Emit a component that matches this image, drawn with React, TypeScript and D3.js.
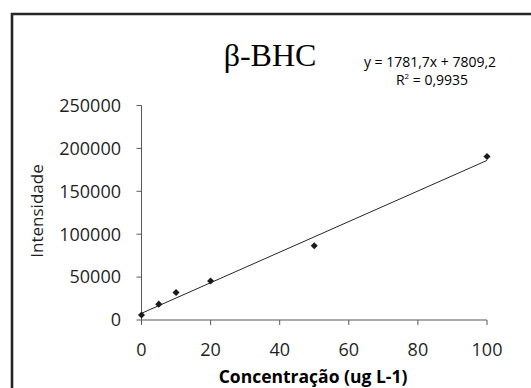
import React from "react";
import * as d3 from "d3";

const concentrations = [0, 5, 10, 20, 50, 100];
const intensities = [5800, 18500, 32000, 45500, 86500, 190500];
const xTicks = [0, 20, 40, 60, 80, 100];
const yTicks = [0, 50000, 100000, 150000, 200000, 250000];
const slope = 1781.7;
const intercept = 7809.2;
const title = "β-BHC";
const equationText = "y = 1781,7x + 7809,2";
const r2Text = "0,9935";
const xTitle = "Concentração (ug L-1)";
const yTitle = "Intensidade";

const W = 531;
const H = 388;
const axisColor = "#595959";
const sans = "'Open Sans', sans-serif";

export default function App() {
  const x = d3.scaleLinear().domain([0, 100]).range([141.5, 487]);
  const y = d3.scaleLinear().domain([0, 250000]).range([320, 105.5]);
  const line = d3
    .line<number>()
    .x((d) => x(d))
    .y((d) => y(slope * d + intercept));
  const diamond = d3.symbol().type(d3.symbolSquare).size(25)();

  return (
    <svg
      width={W}
      height={H}
      style={{ position: "absolute", left: 0, top: 0, background: "#fff" }}
    >
      <rect x={0} y={0} width={W} height={H} fill="#fff" />
      <path d={`M12,${H + 5} L12,14 L${W + 5},14`} fill="none" stroke="#262626" strokeWidth={2.6} />

      <text x={270} y={66} textAnchor="middle" fontFamily="'Liberation Serif', serif" fontSize={32} fill="#000">
        {title}
      </text>
      <text x={430} y={67} textAnchor="middle" fontFamily={sans} fontSize={14} fill="#000">
        {equationText}
      </text>
      <text x={432} y={85} textAnchor="middle" fontFamily={sans} fontSize={14} fill="#000">
        R<tspan fontSize={8} dy={-6}>2</tspan>
        <tspan dy={6}>{" = " + r2Text}</tspan>
      </text>

      {/* y axis */}
      <line x1={x(0)} x2={x(0)} y1={y(0)} y2={y(250000)} stroke={axisColor} strokeWidth={1} />
      {yTicks.map((t) => (
        <g key={"y" + t}>
          <line x1={x(0) - 5} x2={x(0)} y1={y(t)} y2={y(t)} stroke={axisColor} strokeWidth={1} />
          <text x={121} y={y(t)} dy="0.35em" textAnchor="end" fontFamily={sans} fontSize={18} fill="#1f1f1f">
            {t}
          </text>
        </g>
      ))}

      {/* x axis */}
      <line x1={x(0)} x2={x(100)} y1={y(0)} y2={y(0)} stroke={axisColor} strokeWidth={1} />
      {xTicks.map((t) => (
        <g key={"x" + t}>
          <line x1={x(t)} x2={x(t)} y1={y(0)} y2={y(0) + 5} stroke={axisColor} strokeWidth={1} />
          <text x={x(t)} y={356} textAnchor="middle" fontFamily={sans} fontSize={18} fill="#1f1f1f">
            {t}
          </text>
        </g>
      ))}

      <text
        transform={`translate(43,211) rotate(-90)`}
        textAnchor="middle"
        fontFamily={sans}
        fontSize={17}
        fill="#1f1f1f"
      >
        {yTitle}
      </text>
      <text x={313} y={383} textAnchor="middle" fontFamily={sans} fontSize={17.5} fontWeight="bold" fill="#000">
        {xTitle}
      </text>

      <path d={line([0, 100]) || ""} fill="none" stroke="#262626" strokeWidth={1} />

      {concentrations.map((c, i) => (
        <path
          key={"p" + i}
          d={diamond || ""}
          transform={`translate(${x(c)},${y(intensities[i])}) rotate(45)`}
          fill="#1a1a1a"
        />
      ))}
    </svg>
  );
}
